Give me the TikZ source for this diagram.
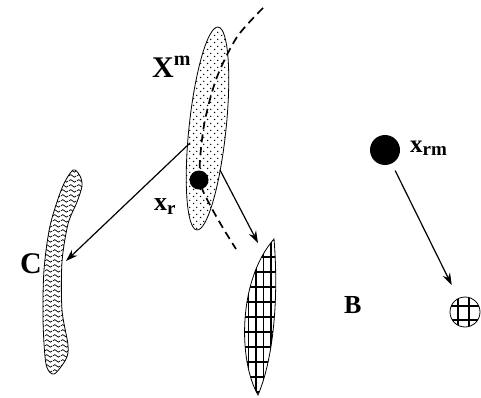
\documentclass[tikz,border=0pt]{standalone}
\usepackage{fontspec}
\setmainfont{Liberation Serif}
\usetikzlibrary{arrows.meta,patterns.meta}

% fill patterns
\pgfdeclarepattern{name=sparsedots,type=uncolored,
  bottom left={\pgfpoint{0pt}{0pt}},top right={\pgfpoint{6.6pt}{6.6pt}},
  tile size={\pgfpoint{6.6pt}{6.6pt}},
  code={\pgfpathcircle{\pgfpoint{1.65pt}{1.65pt}}{0.8pt}
        \pgfpathcircle{\pgfpoint{4.95pt}{4.95pt}}{0.8pt}\pgfusepath{fill}}}
\pgfdeclarepattern{name=waves,type=uncolored,
  bottom left={\pgfpoint{0pt}{0pt}},top right={\pgfpoint{7.5pt}{5pt}},
  tile size={\pgfpoint{7.5pt}{5pt}},
  code={\pgfsetlinewidth{0.8pt}
        \pgfpathmoveto{\pgfpoint{0pt}{2.5pt}}
        \pgfpathcurveto{\pgfpoint{1.25pt}{4.5pt}}{\pgfpoint{2.5pt}{4.5pt}}{\pgfpoint{3.75pt}{2.5pt}}
        \pgfpathcurveto{\pgfpoint{5pt}{0.5pt}}{\pgfpoint{6.25pt}{0.5pt}}{\pgfpoint{7.5pt}{2.5pt}}
        \pgfusepath{stroke}}}

\tikzset{
  outline/.style={draw=black,line width=0.8pt},
  gridline/.style={draw=black,line width=1.1pt},
  geodesic/.style={draw=black,line width=1.7pt,dash pattern=on 8pt off 5pt},
  arrow/.style={-{Stealth[length=12pt,width=8pt]},line width=1.2pt},
  bigdot/.style={circle,fill=black,inner sep=0pt,outer sep=0pt},
  lbl/.style={inner sep=0pt,anchor=base west,font=\bfseries},
}
\newcommand{\fs}[1]{\fontsize{#1}{#1}\selectfont}

\begin{document}
\begin{tikzpicture}[x=1pt,y=-1pt]
\useasboundingbox (0,0) rectangle (481,398);

% manifold X^m
\draw[outline,pattern=sparsedots,rotate around={-6:(207.5,128.5)}]
  (207.5,128.5) ellipse [x radius=18.5,y radius=102];
\draw[geodesic] plot[smooth] coordinates
  {(263,8) (237,37) (217,77) (205,120) (200,160) (201,185) (210,205) (223,228) (236,249)};
\node[bigdot,minimum size=19pt] (xr) at (199,180) {};

% set C
\draw[outline,pattern=waves] plot[smooth cycle] coordinates
  {(73,170) (80,176) (82,186) (77,202) (68,224) (62,262) (62,310) (68,345)
   (66,359) (54,374) (46,364) (43,320) (44,270) (50,226) (62,188)};

% lens-shaped image
\draw[outline,path picture={
    \foreach \gx in {241,248.5,...,281} \draw[gridline] (\gx,230) -- (\gx,398);
    \foreach \gy in {257,272,...,392} \draw[gridline] (240,\gy) -- (285,\gy);}]
  (274,239) .. controls (279,300) and (273,360) .. (258,395)
  .. controls (238,360) and (238,280) .. cycle;

% point x_rm and its image in B
\node[bigdot,minimum size=30pt] (xrm) at (385,150) {};
\node[circle,outline,minimum size=30pt,inner sep=0pt,outer sep=0pt,path picture={
    \foreach \dx in {-7,4}
      \draw[gridline] ([xshift=\dx pt]path picture bounding box.north)
        -- ([xshift=\dx pt]path picture bounding box.south);
    \foreach \dy in {6,-8}
      \draw[gridline] ([yshift=\dy pt]path picture bounding box.west)
        -- ([yshift=\dy pt]path picture bounding box.east);}]
  (bsmall) at (465,312) {};

% labels
\node[lbl,font=\fs{30}\bfseries] (xmlab) at (152,78) {X\raisebox{12pt}{\fs{20}m}};
\node[lbl,font=\fs{26}\bfseries] (xrlab) at (154,210) {x\raisebox{-4pt}{\fs{19}r}};
\node[lbl,font=\fs{25}\bfseries] (xrmlab) at (410,153) {x\raisebox{-3pt}{\fs{19}rm}};
\node[lbl,font=\fs{30}\bfseries] (clab) at (20,273) {C};
\node[lbl,font=\fs{26}\bfseries] (blab) at (344,313) {B};

% mappings
\coordinate (xmL) at (190,143);
\coordinate (cR) at (66,261);
\coordinate (xmR) at (220,170);
\coordinate (lensT) at (258,243);
\draw[arrow] (xmL) -- (cR);
\draw[arrow] (xmR) -- (lensT);
\draw[arrow,shorten <=8pt,shorten >=15pt] (xrm) -- (bsmall);

\end{tikzpicture}
\end{document}
